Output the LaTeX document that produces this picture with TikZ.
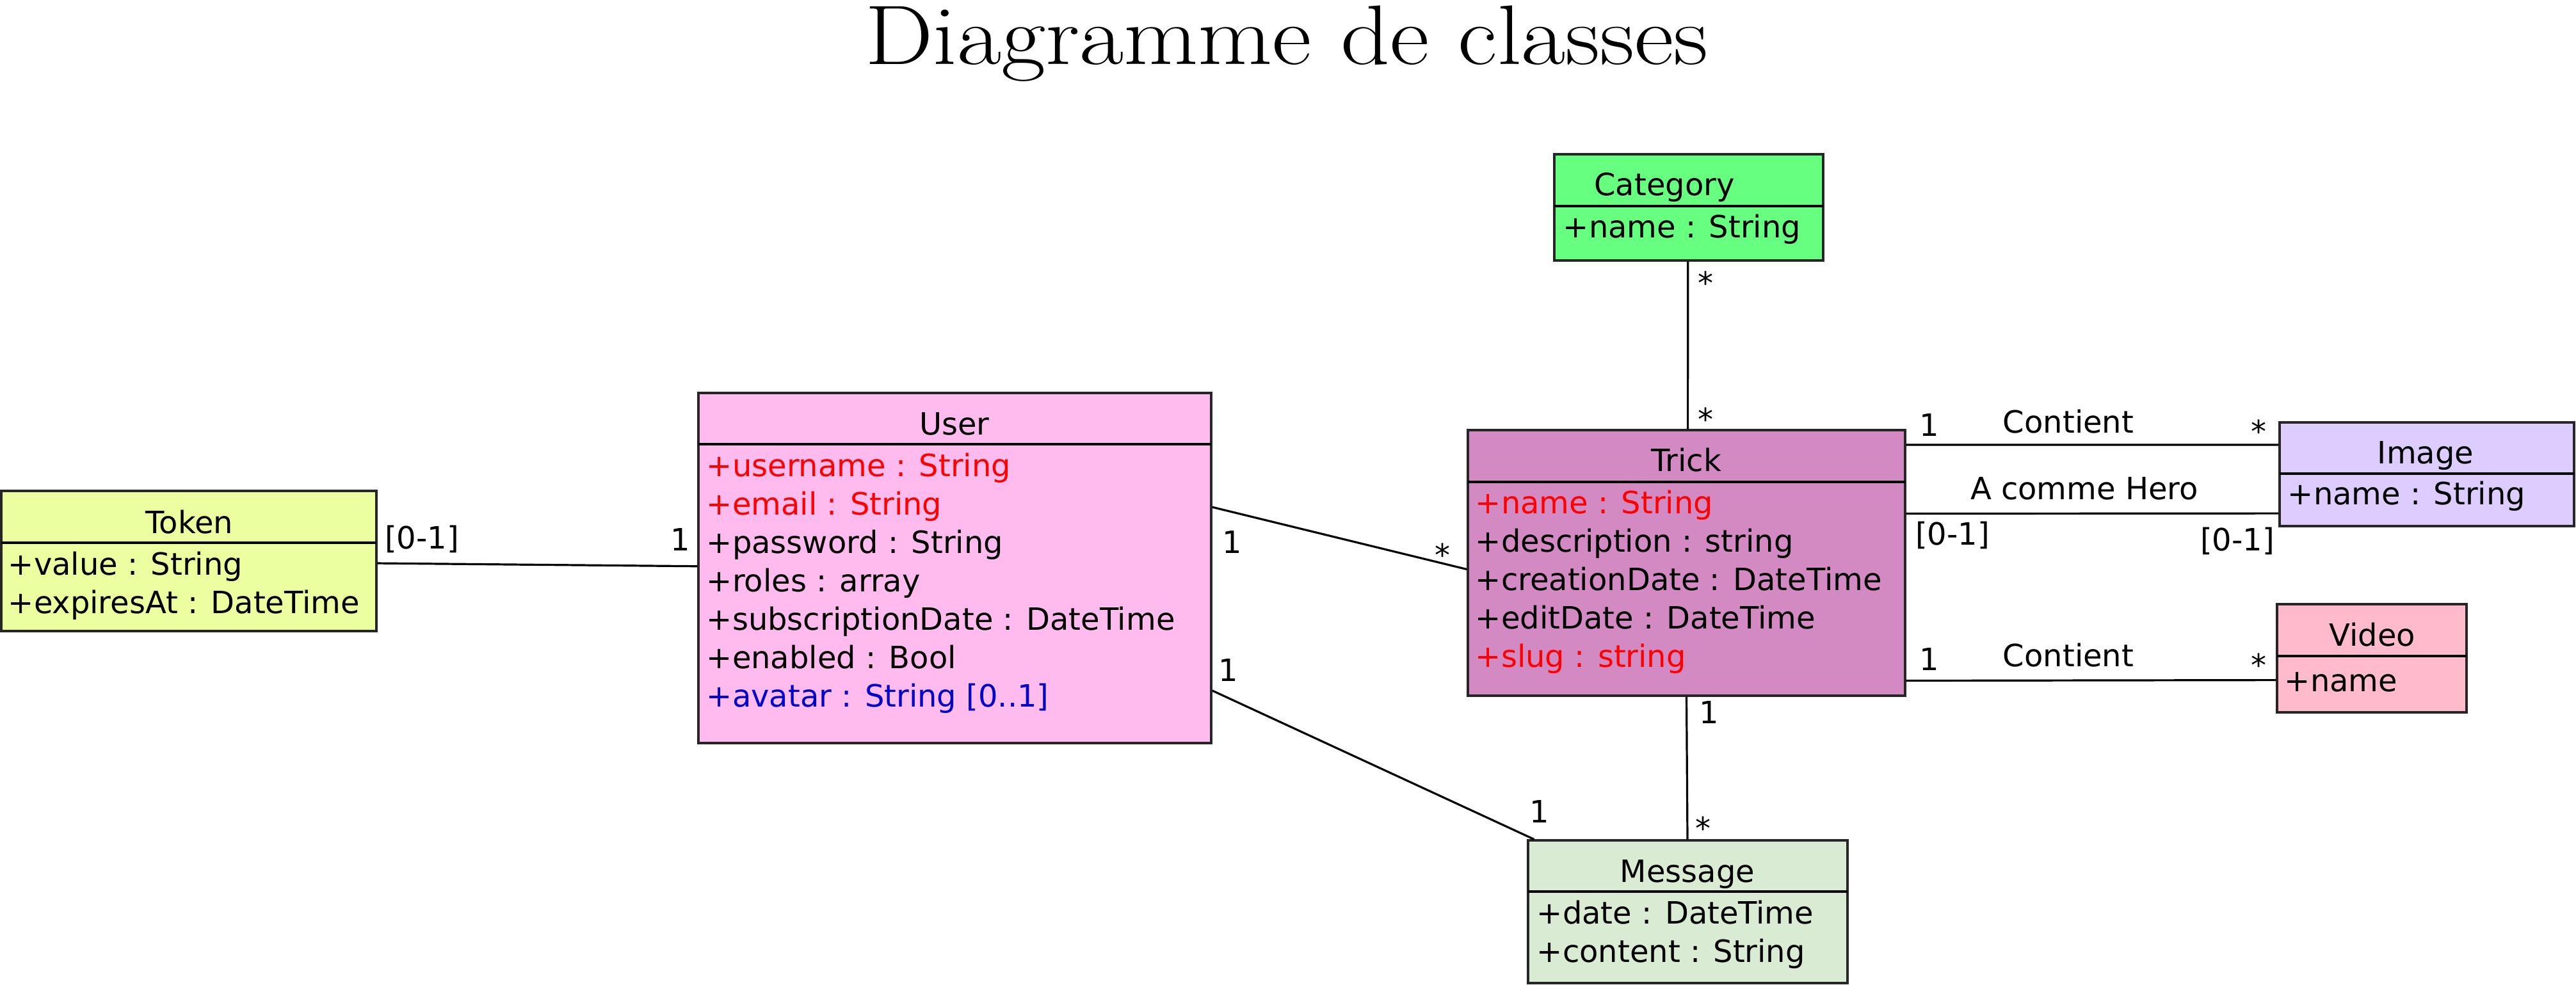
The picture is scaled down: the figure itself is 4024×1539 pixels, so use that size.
\documentclass[tikz,border=0pt]{standalone}
\usepackage{fontspec}
\newfontfamily\dejavu{DejaVu Sans}
\usetikzlibrary{fit,calc}
\definecolor{tokenfill}{HTML}{EBFFA0}
\definecolor{userfill}{HTML}{FFBBEE}
\definecolor{catfill}{HTML}{66FF80}
\definecolor{trickfill}{HTML}{D38AC2}
\definecolor{imagefill}{HTML}{DDCCFF}
\definecolor{videofill}{HTML}{FFBBCC}
\definecolor{msgfill}{HTML}{D9EBD3}
\definecolor{boxline}{HTML}{262626}
\definecolor{attrred}{HTML}{FF0000}
\definecolor{attrblue}{HTML}{0000CC}
\begin{document}
\begin{tikzpicture}[x=0.25pt,y=-0.25pt,
  box/.style={draw=boxline, line width=0.8pt, inner sep=0pt},
  divider/.style={draw=black, line width=0.9pt},
  txt/.style={font=\dejavu\fontsize{12}{15}\selectfont, inner sep=0pt, anchor=base west},
  hdr/.style={font=\dejavu\fontsize{12}{15}\selectfont, inner sep=0pt, anchor=base},
  lbl/.style={font=\dejavu\fontsize{12}{15}\selectfont, inner sep=0pt, anchor=base},
  assoc/.style={draw=black, line width=0.8pt}]
\useasboundingbox (0,0) rectangle (4024,1539);

% title
\node[anchor=base, inner sep=0pt, font=\fontsize{33}{40}\selectfont] (title) at (2010,101) {\scalebox{1.14}[1]{Diagramme de classes}};

% Token
\node[box, fill=tokenfill, fit={(2,767) (588,986)}] (token) {};
\draw[divider] (2,848) -- (588,848);
\node[hdr] (tokenh) at (296,833) {Token};
\node[txt] (tokena1) at (12,898) {+value : String};
\node[txt] (tokena2) at (12,958) {+expiresAt : DateTime};

% User
\node[box, fill=userfill, fit={(1091,614) (1892,1161)}] (user) {};
\draw[divider] (1091,694) -- (1892,694);
\node[hdr] (userh) at (1491,680) {User};
\node[txt, text=attrred] (usera1) at (1103,744) {+username : String};
\node[txt, text=attrred] (usera2) at (1103,804) {+email : String};
\node[txt] (usera3) at (1103,864) {+password : String};
\node[txt] (usera4) at (1103,924) {+roles : array};
\node[txt] (usera5) at (1103,984) {+subscriptionDate : DateTime};
\node[txt] (usera6) at (1103,1044) {+enabled : Bool};
\node[txt, text=attrblue] (usera7) at (1103,1104) {+avatar : String [0..1]};

% Category
\node[box, fill=catfill, fit={(2428,241) (2848,407)}] (cat) {};
\draw[divider] (2428,322) -- (2848,322);
\node[hdr] (cath) at (2600,306) {Category};
\node[txt] (cata1) at (2441,372) {+name : String};

% Trick
\node[box, fill=trickfill, fit={(2293,672) (2976,1087)}] (trick) {};
\draw[divider] (2293,753) -- (2976,753);
\node[hdr] (trickh) at (2634,737) {Trick};
\node[txt, text=attrred] (tricka1) at (2304,802) {+name : String};
\node[txt] (tricka2) at (2304,862) {+description : string};
\node[txt] (tricka3) at (2304,922) {+creationDate : DateTime};
\node[txt] (tricka4) at (2304,982) {+editDate : DateTime};
\node[txt, text=attrred] (tricka5) at (2304,1042) {+slug : string};

% Image
\node[box, fill=imagefill, fit={(3561,660) (4021,822)}] (image) {};
\draw[divider] (3561,740) -- (4021,740);
\node[hdr] (imageh) at (3789,725) {Image};
\node[txt] (imagea1) at (3573,788) {+name : String};

% Video
\node[box, fill=videofill, fit={(3557,944) (3853,1113)}] (video) {};
\draw[divider] (3557,1025) -- (3853,1025);
\node[hdr] (videoh) at (3706,1009) {Video};
\node[txt] (videoa1) at (3568,1080) {+name};

% Message
\node[box, fill=msgfill, fit={(2387,1313) (2886,1536)}] (msg) {};
\draw[divider] (2387,1393) -- (2886,1393);
\node[hdr] (msgh) at (2636,1378) {Message};
\node[txt] (msga1) at (2400,1443) {+date : DateTime};
\node[txt] (msga2) at (2400,1503) {+content : String};

% connectors
\draw[assoc] ($(token.north east)!0.516!(token.south east)$) -- ($(user.north west)!0.495!(user.south west)$);
\draw[assoc] ($(user.north east)!0.327!(user.south east)$) -- ($(trick.north west)!0.524!(trick.south west)$);
\draw[assoc] ($(user.north east)!0.848!(user.south east)$) -- ($(msg.north west)!0.022!(msg.north east)$);
\draw[assoc] ($(cat.south west)!0.497!(cat.south east)$) -- ($(trick.north west)!0.503!(trick.north east)$);
\draw[assoc] (trick.south) -- ($(msg.north west)!0.499!(msg.north east)$);
\draw[assoc] ($(trick.north east)!0.059!(trick.south east)$) -- ($(image.north west)!0.222!(image.south west)$);
\draw[assoc] ($(trick.north east)!0.316!(trick.south east)$) -- ($(image.north west)!0.870!(image.south west)$);
\draw[assoc] ($(trick.north east)!0.940!(trick.south east)$) -- ($(video.north west)!0.698!(video.south west)$);

% labels
\node[lbl] (l1) at (659,858) {[0-1]};
\node[lbl] (l2) at (1063,860) {1};
\node[lbl] (l3) at (1925,864) {1};
\node[lbl] (l4) at (2253,885) {*};
\node[lbl] (l5) at (1919,1064) {1};
\node[lbl] (l6) at (2405,1285) {1};
\node[lbl] (l7) at (2664,460) {*};
\node[lbl] (l8) at (2664,673) {*};
\node[lbl] (l9) at (2670,1130) {1};
\node[lbl] (l10) at (2660,1311) {*};
\node[lbl] (l11) at (3014,682) {1};
\node[lbl] (l12) at (3231,677) {Contient};
\node[lbl] (l13) at (3528,692) {*};
\node[lbl] (l14) at (3256,781) {A comme Hero};
\node[lbl] (l15) at (3050,851) {[0-1]};
\node[lbl] (l16) at (3495,860) {[0-1]};
\node[lbl] (l17) at (3014,1047) {1};
\node[lbl] (l18) at (3231,1041) {Contient};
\node[lbl] (l19) at (3528,1056) {*};
\end{tikzpicture}
\end{document}
